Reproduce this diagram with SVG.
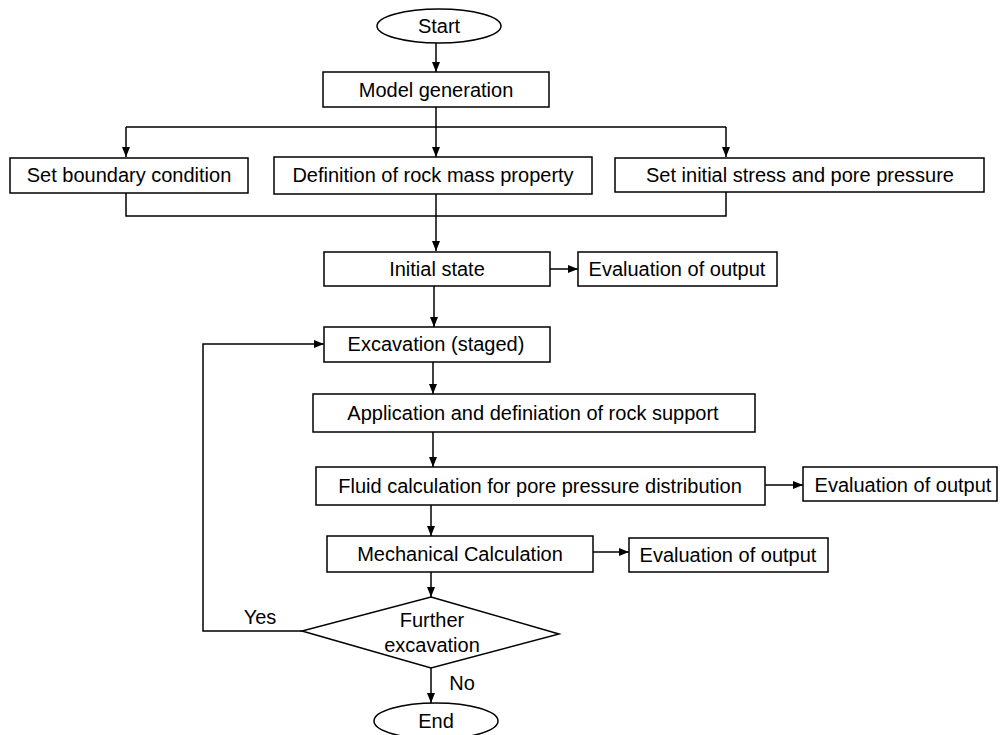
<svg xmlns="http://www.w3.org/2000/svg" width="1001" height="735" viewBox="0 0 1001 735">
<defs>
<marker id="ah" markerWidth="10" markerHeight="8" refX="10" refY="4" orient="auto" markerUnits="userSpaceOnUse">
<path d="M0,0 L10,4 L0,8 Z" fill="#000"/>
</marker>
<style>
.box{fill:#fff;stroke:#000;stroke-width:1.5}
.ln{fill:none;stroke:#000;stroke-width:1.5}
.ar{fill:none;stroke:#000;stroke-width:1.5;marker-end:url(#ah)}
text{font-family:"Liberation Sans",Arial,sans-serif;font-size:20px;fill:#000;text-anchor:middle;dominant-baseline:central}
</style>
</defs>
<rect width="1001" height="735" fill="#fff"/>
<g id="connectors">
<path class="ar" d="M436,43 V72"/>
<path class="ln" d="M436,107 V127 M126,127 H726"/>
<path class="ar" d="M126,127 V157"/>
<path class="ar" d="M436,127 V157"/>
<path class="ar" d="M726,127 V157"/>
<path class="ln" d="M126,193 V216 H726 V192"/>
<path class="ar" d="M436,194 V251"/>
<path class="ar" d="M550,269 H578"/>
<path class="ar" d="M434,286 V327"/>
<path class="ar" d="M302,631 H203 V344 H324"/>
<path class="ar" d="M433,362 V394"/>
<path class="ar" d="M433,432 V467"/>
<path class="ar" d="M765,485 H803"/>
<path class="ar" d="M431,505 V536"/>
<path class="ar" d="M593,552 H629"/>
<path class="ar" d="M431,572 V597"/>
<path class="ar" d="M431,668 V703"/>
<text x="260" y="617">Yes</text>
<text x="462" y="683">No</text>
</g>
<g id="start"><ellipse class="box" cx="439" cy="26" rx="62" ry="17"/><text x="439" y="26">Start</text></g>
<g id="model"><rect class="box" x="323" y="72" width="226" height="35"/><text x="436" y="90">Model generation</text></g>
<g id="boundary"><rect class="box" x="10" y="158" width="238" height="35"/><text x="129" y="175">Set boundary condition</text></g>
<g id="rockmass"><rect class="box" x="274" y="157" width="318" height="37"/><text x="433" y="175">Definition of rock mass property</text></g>
<g id="initstress"><rect class="box" x="615" y="158" width="369" height="34"/><text x="800" y="175">Set initial stress and pore pressure</text></g>
<g id="initial"><rect class="box" x="324" y="252" width="226" height="34"/><text x="437" y="269">Initial state</text></g>
<g id="eval1"><rect class="box" x="578" y="252" width="199" height="34"/><text x="677" y="269">Evaluation of output</text></g>
<g id="excavation"><rect class="box" x="324" y="327" width="226" height="35"/><text x="436" y="344">Excavation (staged)</text></g>
<g id="support"><rect class="box" x="313" y="394" width="442" height="38"/><text x="533" y="413">Application and definiation of rock support</text></g>
<g id="fluid"><rect class="box" x="316" y="467" width="449" height="38"/><text x="540" y="486">Fluid calculation for pore pressure distribution</text></g>
<g id="eval2"><rect class="box" x="803" y="467" width="194" height="34"/><text x="903" y="485">Evaluation of output</text></g>
<g id="mech"><rect class="box" x="327" y="536" width="266" height="36"/><text x="460" y="554">Mechanical Calculation</text></g>
<g id="eval3"><rect class="box" x="629" y="538" width="199" height="34"/><text x="728" y="555">Evaluation of output</text></g>
<g id="decision"><polygon class="box" points="431,597 559,634 431,668 302,631"/><text x="432" y="620">Further</text><text x="432" y="645">excavation</text></g>
<g id="end"><ellipse class="box" cx="436" cy="721" rx="62" ry="18"/><text x="436" y="721">End</text></g>
</svg>
